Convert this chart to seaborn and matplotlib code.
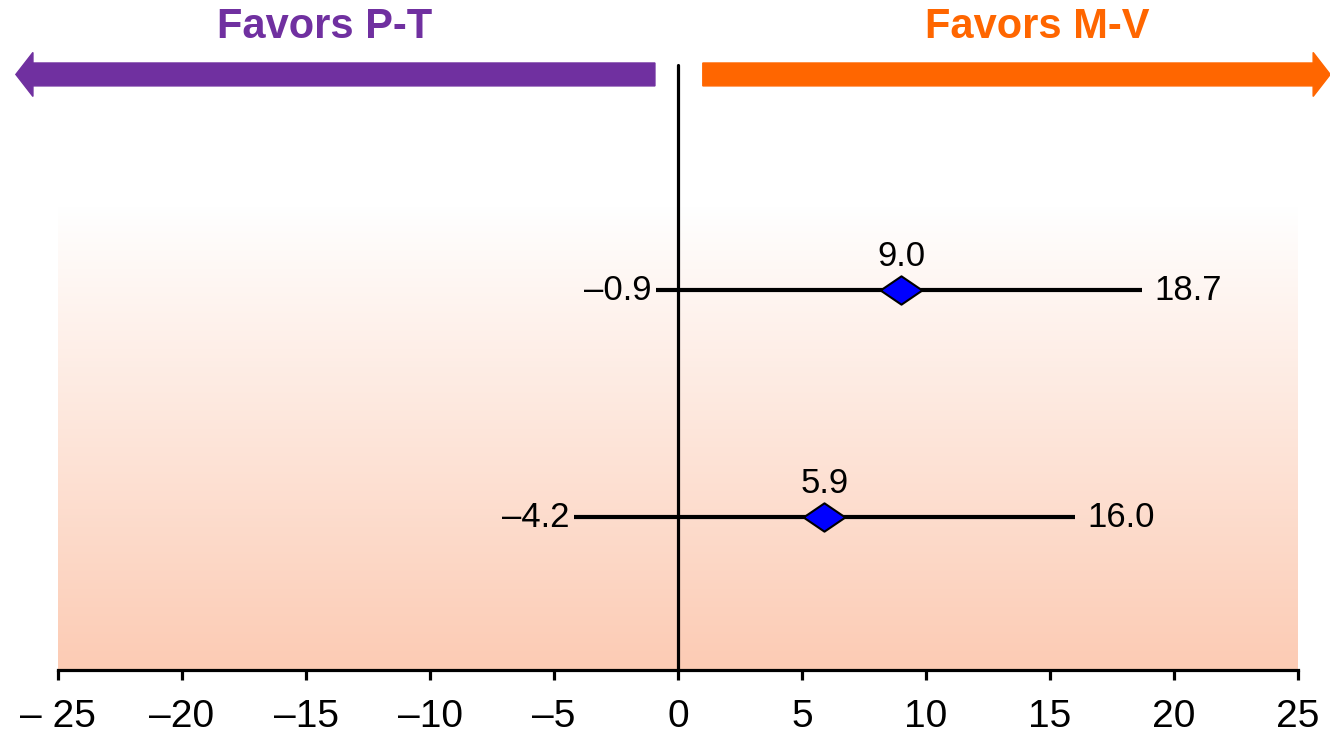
import numpy as np
import matplotlib
matplotlib.use("Agg")
import matplotlib.pyplot as plt
import seaborn as sns
from matplotlib.colors import LinearSegmentedColormap
from matplotlib.patches import FancyArrow
import pandas as pd

# forest-plot values (top row first)
means = [9.0, 5.9]
lower = [-0.9, -4.2]
upper = [18.7, 16.0]
ticks = [-25, -20, -15, -10, -5, 0, 5, 10, 15, 20, 25]
tick_labels = ["\u2013 25", "\u201320", "\u201315", "\u201310", "\u20135",
               "0", "5", "10", "15", "20", "25"]
left_label = "Favors P-T"
right_label = "Favors M-V"

def fmt(v):
    return f"{v:.1f}".replace("-", "\u2013")

df = pd.DataFrame({"mean": means, "lo": lower, "hi": upper})
df["row"] = len(df) - np.arange(len(df))

sns.set_style("white")
plt.rcParams['font.family'] = ['Liberation Sans', 'DejaVu Sans']
plt.rcParams['text.color'] = 'black'
plt.rcParams['xtick.color'] = 'black'

fig = plt.figure(figsize=(13.3, 7.41), dpi=100)
ax = fig.add_axes([58 / 1330, 71 / 741, 1240 / 1330, 670 / 741])
ax.set_xlim(-25, 25)
ax.set_ylim(0.326, 3.278)

# gradient background
cmap = LinearSegmentedColormap.from_list("bg", ["#FFFFFF", "#FCCBB4"])
grad = np.linspace(0, 1, 256).reshape(-1, 1)
ax.imshow(grad, cmap=cmap, aspect="auto", origin="upper",
          extent=(-25.1, 25.05, 0.326, 2.366), zorder=0)

# zero line
ax.plot([0, 0], [0.326, 2.99], color="black", lw=2.3, zorder=2, clip_on=False)

# CI lines
ax.hlines(df["row"], df["lo"], df["hi"], color="black", lw=3, zorder=3)

diamond = [(-1, 0), (0, 0.68), (1, 0), (0, -0.68), (-1, 0)]
sns.scatterplot(data=df, x="mean", y="row", marker=diamond, s=900,
                color="#0000FF", edgecolor="black", linewidth=1.5,
                zorder=4, ax=ax, legend=False)

for _, r in df.iterrows():
    ax.annotate(fmt(r["mean"]), (r["mean"], r["row"]), xytext=(0, 12),
                textcoords="offset points", ha="center", va="bottom",
                fontsize=25, color="black")
    ax.annotate(fmt(r["lo"]), (r["lo"], r["row"]), xytext=(-3, 0),
                textcoords="offset points", ha="right", va="center",
                fontsize=25, color="black")
    ax.annotate(fmt(r["hi"]), (r["hi"], r["row"]), xytext=(9, 0),
                textcoords="offset points", ha="left", va="center",
                fontsize=25, color="black")

# direction arrows
ay = 2.95
ax.add_patch(FancyArrow(-0.93, ay, -25.77, 0, width=0.101, head_width=0.194,
                        head_length=0.69, length_includes_head=True,
                        color="#7030A0", clip_on=False, zorder=2))
ax.add_patch(FancyArrow(1.0, ay, 25.3, 0, width=0.101, head_width=0.194,
                        head_length=0.69, length_includes_head=True,
                        color="#FF6600", clip_on=False, zorder=2))
fig.text(325 / 1330, 1 - 27 / 741, left_label, color="#7030A0", fontsize=30,
         fontweight="bold", ha="center", va="center")
fig.text(1037 / 1330, 1 - 27 / 741, right_label, color="#FF6600", fontsize=30,
         fontweight="bold", ha="center", va="center")

# axes styling
for s in ["top", "left", "right"]:
    ax.spines[s].set_visible(False)
ax.spines["bottom"].set_linewidth(2.3)
ax.spines["bottom"].set_color("black")
ax.set_yticks([])
ax.set_xticks(ticks)
ax.set_xticklabels(tick_labels, fontsize=28)
ax.tick_params(axis="x", direction="out", length=7, width=2.3, color="black",
               labelcolor="black", pad=14, bottom=True)
ax.set_xlabel("")
ax.set_ylabel("")
ax.patch.set_alpha(0)

fig.savefig("out.png", dpi=100)
